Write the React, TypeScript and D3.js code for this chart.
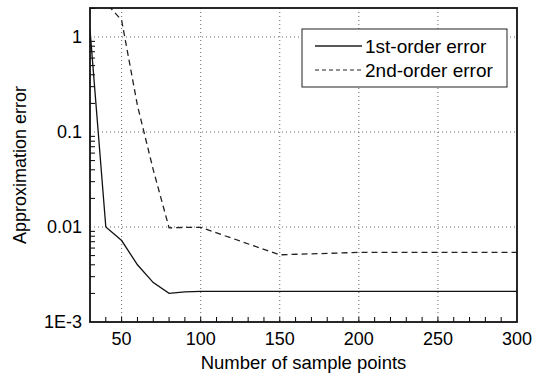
import { useEffect, useRef } from 'react'
import * as d3 from 'd3'

const samplePoints = [30, 40, 50, 60, 70, 80, 90, 100, 150, 200, 250, 300]
const firstOrderError = [1.2, 0.01, 0.0072, 0.004, 0.0026, 0.002, 0.00208, 0.0021, 0.0021, 0.0021, 0.0021, 0.0021]
const secondOrderError = [2.5, 2.3, 1.5, 0.19, 0.04, 0.0098, 0.0099, 0.0099, 0.0051, 0.0054, 0.0054, 0.0054]

const xTicks = [50, 100, 150, 200, 250, 300]
const yTicks = [1e-3, 0.01, 0.1, 1]
const yTickLabels = ['1E-3', '0.01', '0.1', '1']
const seriesNames = ['1st-order error', '2nd-order error']

export default function App() {
  const svgRef = useRef<SVGSVGElement>(null)

  useEffect(() => {
    if (!svgRef.current) return
    const svg = d3.select(svgRef.current)
    svg.selectAll('*').remove()

    const width = 545
    const height = 380
    const margin = { top: 8, right: 28, bottom: 58, left: 90 }
    const innerWidth = width - margin.left - margin.right
    const innerHeight = height - margin.top - margin.bottom
    const font = 'Liberation Sans, Arial, sans-serif'

    svg.attr('width', width).attr('height', height)
    svg.append('rect').attr('width', width).attr('height', height).attr('fill', '#fff')

    const g = svg.append('g').attr('transform', `translate(${margin.left},${margin.top})`)

    const x = d3.scaleLinear().domain([30, 300]).range([0, innerWidth])
    const y = d3.scaleLog().domain([1e-3, 2.02]).range([innerHeight, 0])

    svg.append('defs').append('clipPath').attr('id', 'plot-clip')
      .append('rect').attr('width', innerWidth).attr('height', innerHeight)

    // grid
    g.selectAll('.vgrid')
      .data(xTicks.filter(d => d < 300))
      .enter()
      .append('line')
      .attr('x1', d => x(d)).attr('x2', d => x(d))
      .attr('y1', 0).attr('y2', innerHeight)
      .attr('stroke', '#666')
      .attr('stroke-width', 1)
      .attr('stroke-dasharray', '1,3')

    g.selectAll('.hgrid')
      .data(yTicks.slice(1))
      .enter()
      .append('line')
      .attr('x1', 0).attr('x2', innerWidth)
      .attr('y1', d => y(d)).attr('y2', d => y(d))
      .attr('stroke', '#666')
      .attr('stroke-width', 1)
      .attr('stroke-dasharray', '1,3')

    // minor ticks (inward)
    const xMinor = d3.range(40, 300, 10)
    g.selectAll('.xminor')
      .data(xMinor)
      .enter()
      .append('line')
      .attr('x1', d => x(d)).attr('x2', d => x(d))
      .attr('y1', innerHeight).attr('y2', innerHeight - 5)
      .attr('stroke', '#000')

    const yMinor: number[] = []
    for (const dec of [1e-3, 1e-2, 1e-1, 1]) {
      for (let k = 2; k <= 9; k++) {
        const v = dec * k
        if (v <= 2.02) yMinor.push(v)
      }
    }
    g.selectAll('.yminor')
      .data(yMinor)
      .enter()
      .append('line')
      .attr('x1', 0).attr('x2', 5)
      .attr('y1', d => y(d)).attr('y2', d => y(d))
      .attr('stroke', '#000')

    // lines
    const line = d3.line<number>()
      .x((_, i) => x(samplePoints[i]))
      .y(d => y(d))

    const plot = g.append('g').attr('clip-path', 'url(#plot-clip)')
    plot.append('path')
      .datum(firstOrderError)
      .attr('d', line)
      .attr('fill', 'none')
      .attr('stroke', '#111')
      .attr('stroke-width', 1.3)

    plot.append('path')
      .datum(secondOrderError)
      .attr('d', line)
      .attr('fill', 'none')
      .attr('stroke', '#222')
      .attr('stroke-width', 1.3)
      .attr('stroke-dasharray', '6,4')

    // frame
    g.append('rect')
      .attr('width', innerWidth)
      .attr('height', innerHeight)
      .attr('fill', 'none')
      .attr('stroke', '#111')
      .attr('stroke-width', 1.8)

    // tick labels
    g.selectAll('.xlabel')
      .data(xTicks)
      .enter()
      .append('text')
      .attr('x', d => x(d))
      .attr('y', innerHeight + 23)
      .attr('text-anchor', 'middle')
      .style('font-family', font)
      .style('font-size', '18px')
      .text(d => String(d))

    g.selectAll('.ylabel')
      .data(yTicks)
      .enter()
      .append('text')
      .attr('x', -8)
      .attr('y', d => y(d))
      .attr('dy', '0.36em')
      .attr('text-anchor', 'end')
      .style('font-family', font)
      .style('font-size', '18px')
      .text((_, i) => yTickLabels[i])

    // axis titles
    svg.append('text')
      .attr('x', margin.left + innerWidth / 2)
      .attr('y', 369)
      .attr('text-anchor', 'middle')
      .style('font-family', font)
      .style('font-size', '18.5px')
      .text('Number of sample points')

    svg.append('text')
      .attr('transform', `translate(26,${margin.top + innerHeight / 2}) rotate(-90)`)
      .attr('text-anchor', 'middle')
      .style('font-family', font)
      .style('font-size', '18px')
      .text('Approximation error')

    // legend
    const legend = svg.append('g').attr('transform', 'translate(302,29)')
    legend.append('rect')
      .attr('width', 205)
      .attr('height', 58)
      .attr('fill', '#fff')
      .attr('stroke', '#222')
      .attr('stroke-width', 1)

    legend.selectAll('.item')
      .data(seriesNames)
      .enter()
      .append('g')
      .attr('transform', (_, i) => `translate(0,${17 + i * 24})`)
      .each(function (d, i) {
        const item = d3.select(this)
        item.append('line')
          .attr('x1', 13).attr('x2', 60)
          .attr('y1', 0).attr('y2', 0)
          .attr('stroke', '#222')
          .attr('stroke-width', i === 0 ? 1.3 : 1)
          .attr('stroke-dasharray', i === 0 ? null : '4,3')
        item.append('text')
          .attr('x', 63)
          .attr('dy', '0.36em')
          .style('font-family', font)
          .style('font-size', '19px')
          .text(d)
      })
  }, [])

  return <svg ref={svgRef} style={{ position: 'absolute', left: 0, top: 0 }} />
}
